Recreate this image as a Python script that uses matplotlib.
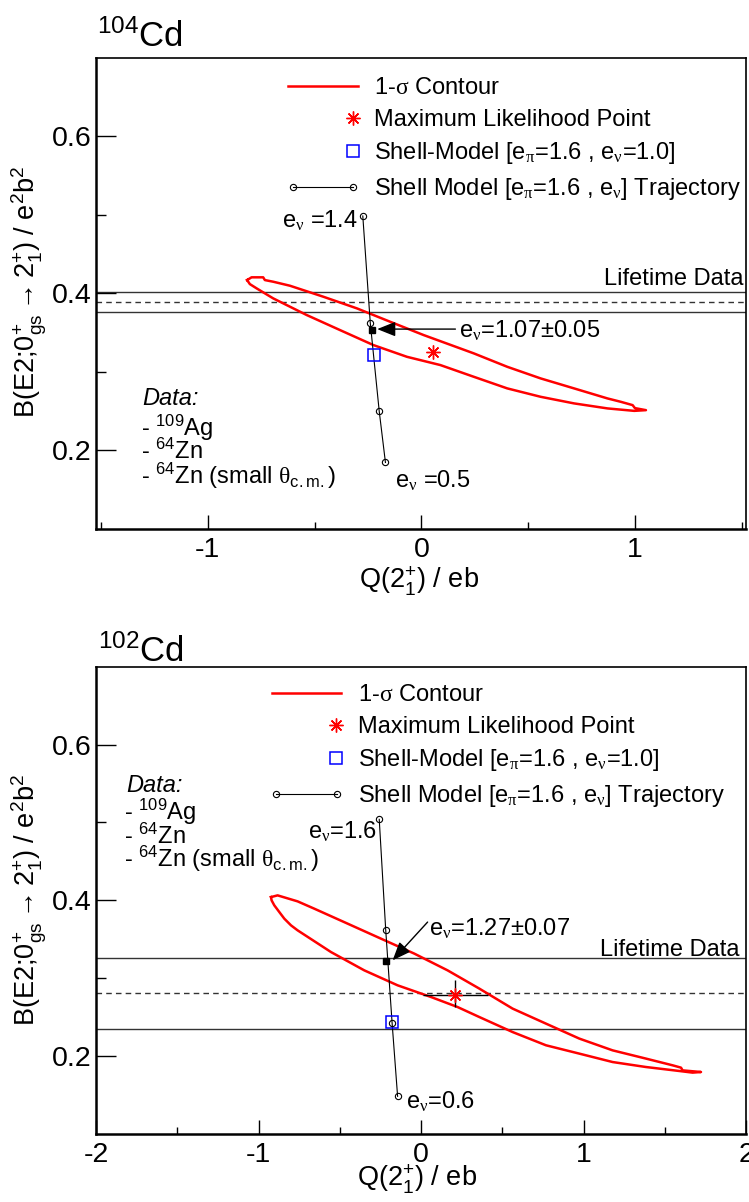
import numpy as np
import matplotlib
matplotlib.use("Agg")
import matplotlib.pyplot as plt
from matplotlib.legend_handler import HandlerLine2D

plt.rcParams['font.family'] = ['Liberation Sans', 'DejaVu Sans']
plt.rcParams['mathtext.fontset'] = 'custom'
plt.rcParams['mathtext.rm'] = 'Liberation Sans'
plt.rcParams['mathtext.sf'] = 'Liberation Sans'
plt.rcParams['mathtext.it'] = 'Liberation Sans:italic'
plt.rcParams['mathtext.bf'] = 'Liberation Sans:bold'
plt.rcParams['mathtext.cal'] = 'Liberation Serif'
plt.rcParams['mathtext.default'] = 'rm'

# ---------------- data: 104Cd (top) ----------------
cd104_contour_x = [-0.8155, -0.7948, -0.7404, -0.7324, -0.6934, -0.615, -0.4587, -0.3019, -0.1455,
                   0.0108, 0.2455, 0.4023, 0.5587, 0.715, 0.8718, 0.9343, 0.9892, 1.0, 1.0516,
                   0.9967, 0.8718, 0.715, 0.5587, 0.4023, 0.2455, 0.0892, -0.0671, -0.2239,
                   -0.3803, -0.5366, -0.6934, -0.7324, -0.7714, -0.8028, -0.8155]
cd104_contour_y = [0.4169, 0.4204, 0.4204, 0.4169, 0.4148, 0.4097, 0.3957, 0.3809, 0.3638,
                   0.3469, 0.3236, 0.3065, 0.2917, 0.2790, 0.2662, 0.2619, 0.2577, 0.2539, 0.2513,
                   0.2504, 0.2535, 0.2599, 0.2683, 0.2790, 0.2938, 0.3087, 0.3192, 0.3341,
                   0.3532, 0.3724, 0.3936, 0.4000, 0.4064, 0.4118, 0.4169]
cd104_ml = (0.053, 0.3248)
cd104_sm = (-0.2207, 0.3214)
cd104_traj_x = [-0.274, -0.239, -0.197, -0.168]
cd104_traj_y = [0.4985, 0.3625, 0.2497, 0.1847]
cd104_fit = (-0.2286, 0.3533)
cd104_life = [0.3758, 0.3885, 0.4020]   # low, central, high

# ---------------- data: 102Cd (bottom) ----------------
cd102_contour_x = [-0.923, -0.8825, -0.7594, -0.6566, -0.4517, -0.2462, -0.0412, 0.1637, 0.3588,
                   0.5637, 0.7692, 0.9742, 1.1791, 1.3846, 1.5483, 1.6, 1.6098, 1.7231,
                   1.6714, 1.5895, 1.3846, 1.1791, 0.9742, 0.7692, 0.5637, 0.3588, 0.2252,
                   0.0615, -0.144, -0.3489, -0.5538, -0.7594, -0.80, -0.8412, -0.872, -0.9028,
                   -0.9194, -0.923]
cd102_contour_y = [0.4042, 0.4064, 0.3987, 0.3893, 0.3701, 0.3508, 0.3316, 0.3101, 0.2867,
                   0.2610, 0.2417, 0.2225, 0.2074, 0.1968, 0.1882, 0.1852, 0.1817, 0.1796,
                   0.1788, 0.1809, 0.1860, 0.1924, 0.2032, 0.2139, 0.2309, 0.2502, 0.2630,
                   0.2759, 0.2909, 0.3101, 0.3336, 0.3615, 0.3679, 0.3765, 0.3850, 0.3936,
                   0.4000, 0.4042]
cd102_ml = (0.211, 0.279)
cd102_ml_xerr = 0.2
cd102_ml_yerr = (0.0164, 0.0183)
cd102_sm = (-0.178, 0.2434)
cd102_traj_x = [-0.257, -0.217, -0.178, -0.144]
cd102_traj_y = [0.504, 0.3615, 0.243, 0.1484]
cd102_fit = (-0.215, 0.3217)
cd102_life = [0.2353, 0.2806, 0.3260]

W, H = 749, 1202
fig = plt.figure(figsize=(W / 100, H / 100), dpi=100)


def fx(px):
    return px / W


def fy(py):
    return 1 - py / H


ax1 = fig.add_axes([fx(96), fy(529), 650 / W, 471.3 / H])
ax2 = fig.add_axes([fx(96), fy(1134), 650 / W, 467.3 / H])

LEG_FS = 17
TICK_FS = 20.5
LAB_FS = 19.5


class EndMarker(HandlerLine2D):
    def get_xdata(self, legend, xdescent, ydescent, width, height, fontsize):
        x = np.array([-xdescent + width * 0.93])
        return x, x


def style_axes(ax, xlim, xmaj, xmin):
    ax.set_xlim(*xlim)
    ax.set_ylim(0.1, 0.7)
    ax.set_xticks(xmaj)
    ax.set_xticks(xmin, minor=True)
    ax.set_yticks([0.2, 0.4, 0.6])
    ax.set_yticks([0.3, 0.5], minor=True)
    ax.set_xticklabels([f"{v:g}" for v in xmaj])
    ax.set_yticklabels(["0.2", "0.4", "0.6"])
    ax.tick_params(axis='both', which='both', direction='in', top=False, right=False,
                   labelsize=TICK_FS, width=1.0, color='black')
    ax.tick_params(axis='y', which='major', length=14.4, pad=3)
    ax.tick_params(axis='y', which='minor', length=7.2)
    ax.tick_params(axis='x', which='major', length=10, pad=6)
    ax.tick_params(axis='x', which='minor', length=5)
    for s in ['left', 'bottom']:
        ax.spines[s].set_linewidth(1.8)
    for s in ['top', 'right']:
        ax.spines[s].set_linewidth(1.2)


def draw_panel(ax, cx, cy, ml, sm, tx, ty, fit, life, errs=None):
    for v, ls in zip(life, ['-', '--', '-']):
        ax.axhline(v, color='#333333', lw=1.0, ls=ls, dashes=(4, 3) if ls == '--' else (None, None), zorder=1)
    contour, = ax.plot(cx, cy, color='red', lw=1.8, zorder=3,
                       label=r"1-$\mathcal{\sigma}$ Contour")
    traj, = ax.plot(tx, ty, color='black', lw=0.8, marker='o', ms=4.5, mfc='none', mec='black',
                    mew=0.8, zorder=4,
                    label=r"Shell Model [e$_{\mathcal{\pi}}$=1.6 , e$_{\mathcal{\nu}}$] Trajectory")
    ax.plot([fit[0]], [fit[1]], ls='none', marker='s', ms=4, color='black', zorder=5)
    sq, = ax.plot([sm[0]], [sm[1]], ls='none', marker='s', ms=8, mfc='none', mec='blue', mew=1.1,
                  zorder=5, label=r"Shell-Model [e$_{\mathcal{\pi}}$=1.6 , e$_{\mathcal{\nu}}$=1.0]")
    if errs is not None:
        ax.errorbar([ml[0]], [ml[1]], xerr=[[errs[0]], [errs[0]]],
                    yerr=[[errs[1][0]], [errs[1][1]]], fmt='none', ecolor='black',
                    elinewidth=1.0, capsize=0, zorder=5)
    star, = ax.plot([ml[0]], [ml[1]], ls='none', marker=(8, 2, 0), ms=10, color='red', mew=1.0,
                    zorder=6, label="Maximum Likelihood Point")
    return contour, star, sq, traj


def add_legend(ax, handles, anchor):
    hm = {handles[1]: EndMarker(), handles[2]: EndMarker(),
          handles[3]: HandlerLine2D(numpoints=2, marker_pad=0.2)}
    leg = ax.legend(handles=list(handles), handler_map=hm, loc='upper left', bbox_to_anchor=anchor,
                    frameon=False, fontsize=LEG_FS, borderpad=0, borderaxespad=0, handlelength=2.95,
                    handletextpad=0.7, labelspacing=0.4)
    return leg


# ---------- top panel ----------
style_axes(ax1, (-1.523, 1.52), [-1, 0, 1], [-1.5, -0.5, 0.5, 1.5])
h = draw_panel(ax1, cd104_contour_x, cd104_contour_y, cd104_ml, cd104_sm,
               cd104_traj_x, cd104_traj_y, cd104_fit, cd104_life)
ax1.text(1.510, 0.4106, "Lifetime Data", ha='right', va='baseline', fontsize=LEG_FS)
ax1.text(-0.2958, 0.4845, r"e$_{\mathcal{\nu}}$ =1.4", ha='right', va='baseline', fontsize=LEG_FS)
ax1.text(-0.122, 0.1529, r"e$_{\mathcal{\nu}}$ =0.5", ha='left', va='baseline', fontsize=LEG_FS)
ax1.text(0.1752, 0.3443, "e$_{\\mathcal{\\nu}}$=1.07\u00b10.05", ha='left', va='baseline', fontsize=LEG_FS)
ax1.annotate("", xy=(-0.2066, 0.3545), xytext=(0.1596, 0.3545),
             arrowprops=dict(arrowstyle='-|>,head_length=0.7,head_width=0.28', color='black',
                             lw=1.0, shrinkA=0, shrinkB=0, mutation_scale=16))
ax1.text(-1.305, 0.2577, "Data:", style='italic', ha='left', va='baseline', fontsize=LEG_FS)
ax1.text(-1.31, 0.2182, r"- $^{109}$Ag", ha='left', va='baseline', fontsize=LEG_FS)
ax1.text(-1.31, 0.1898, r"- $^{64}$Zn", ha='left', va='baseline', fontsize=LEG_FS)
ax1.text(-1.31, 0.158, r"- $^{64}$Zn (small $\mathcal{\theta}_{\mathrm{c.m.}}$)", ha='left',
         va='baseline', fontsize=LEG_FS)
add_legend(ax1, h, (0.2954, 0.958))

# ---------- bottom panel ----------
style_axes(ax2, (-2, 2), [-2, -1, 0, 1, 2], [-1.5, -0.5, 0.5, 1.5])
h2 = draw_panel(ax2, cd102_contour_x, cd102_contour_y, cd102_ml, cd102_sm,
                cd102_traj_x, cd102_traj_y, cd102_fit, cd102_life,
                errs=(cd102_ml_xerr, cd102_ml_yerr))
ax2.text(1.959, 0.3284, "Lifetime Data", ha='right', va='baseline', fontsize=LEG_FS)
ax2.text(-0.272, 0.4796, r"e$_{\mathcal{\nu}}$=1.6", ha='right', va='baseline', fontsize=LEG_FS)
ax2.text(-0.0923, 0.133, r"e$_{\mathcal{\nu}}$=0.6", ha='left', va='baseline', fontsize=LEG_FS)
ax2.text(0.0511, 0.356, "e$_{\\mathcal{\\nu}}$=1.27\u00b10.07", ha='left', va='baseline', fontsize=LEG_FS)
ax2.annotate("", xy=(-0.1748, 0.323), xytext=(0.0406, 0.3721),
             arrowprops=dict(arrowstyle='-|>,head_length=0.7,head_width=0.28', color='black',
                             lw=1.0, shrinkA=0, shrinkB=0, mutation_scale=16))
ax2.text(-1.815, 0.539, "Data:", style='italic', ha='left', va='baseline', fontsize=LEG_FS)
ax2.text(-1.826, 0.5027, r"- $^{109}$Ag", ha='left', va='baseline', fontsize=LEG_FS)
ax2.text(-1.826, 0.4728, r"- $^{64}$Zn", ha='left', va='baseline', fontsize=LEG_FS)
ax2.text(-1.826, 0.4428, r"- $^{64}$Zn (small $\mathcal{\theta}_{\mathrm{c.m.}}$)", ha='left',
         va='baseline', fontsize=LEG_FS)
add_legend(ax2, h2, (0.2703, 0.962))

# ---------- titles and axis labels ----------
fig.text(fx(96.7), fy(46.7), r"$^{104}$Cd", fontsize=25, ha='left', va='baseline')
fig.text(fx(98.3), fy(661.7), r"$^{102}$Cd", fontsize=25, ha='left', va='baseline')

ylab = r"B(E2;$0^{+}_{gs}\rightarrow2^{+}_{1}$) / e$^{2}$b$^{2}$"
xlab = r"Q($2^{+}_{1}$) / eb"
fig.text(fx(29), fy(292), ylab, rotation=90, ha='center', va='center', fontsize=LAB_FS)
fig.text(fx(29), fy(900), ylab, rotation=90, ha='center', va='center', fontsize=LAB_FS)
fig.text(fx(419), fy(589), xlab, ha='center', va='baseline', fontsize=LAB_FS)
fig.text(fx(417), fy(1187), xlab, ha='center', va='baseline', fontsize=LAB_FS)

fig.savefig("out.png", dpi=100)
